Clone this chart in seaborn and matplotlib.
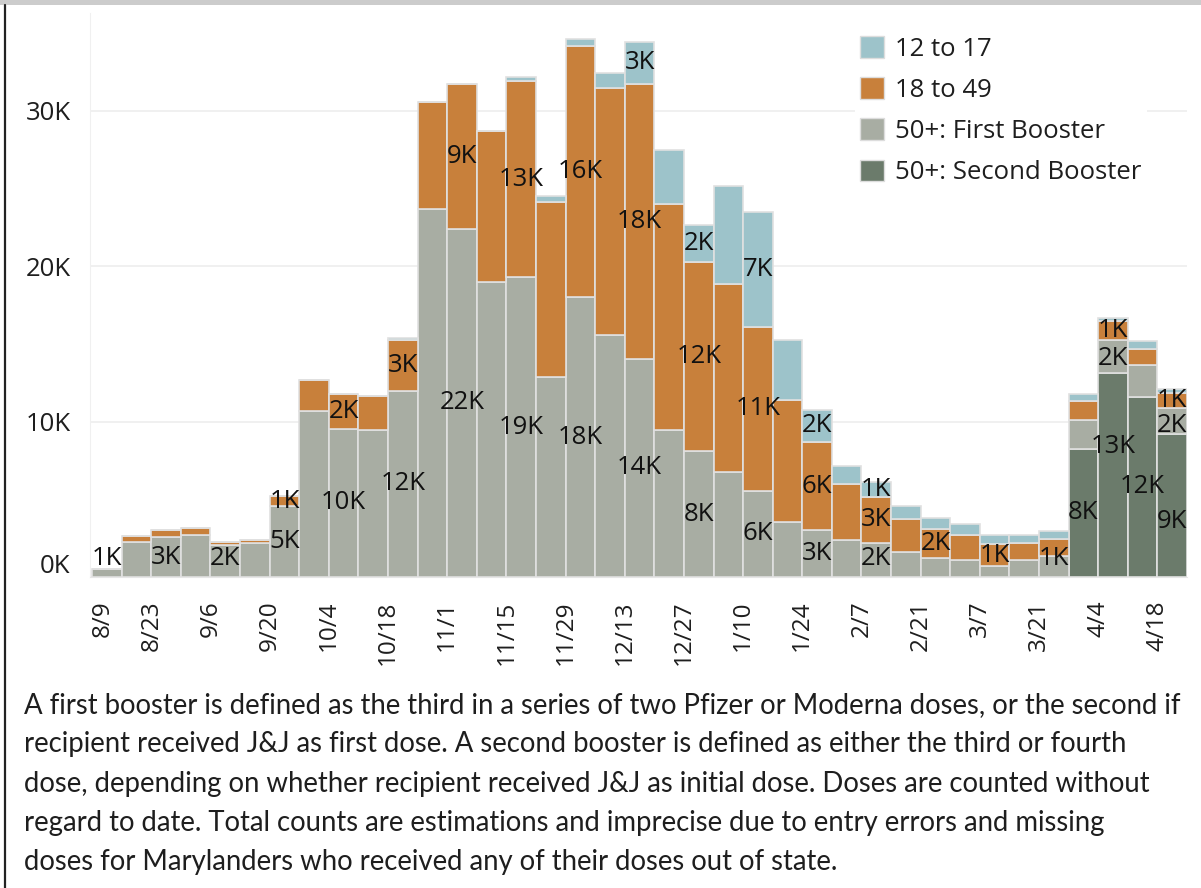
import numpy as np
import pandas as pd
import matplotlib
matplotlib.use("Agg")
import matplotlib.pyplot as plt
import seaborn as sns
from matplotlib.patches import Patch, Rectangle
from matplotlib.lines import Line2D
from matplotlib.transforms import ScaledTranslation

# Weekly booster doses by group
weeks = ['8/9', '8/16', '8/23', '8/30', '9/6', '9/13', '9/20', '9/27',
         '10/4', '10/11', '10/18', '10/25', '11/1', '11/8', '11/15', '11/22',
         '11/29', '12/6', '12/13', '12/20', '12/27', '1/3', '1/10', '1/17',
         '1/24', '1/31', '2/7', '2/14', '2/21', '2/28', '3/7', '3/14',
         '3/21', '3/28', '4/4', '4/11', '4/18']

age_12_17 = [0, 0, 0, 0, 0, 0, 0, 0, 0, 0, 100, 0, 0, 0, 300, 370,
             450, 950, 2700, 3500, 2350, 6350, 7400, 3900, 2100, 1180,
             940, 800, 680, 700, 600, 520, 550, 450, 200, 550, 250]
age_18_49 = [0, 370, 450, 450, 180, 200, 650, 2000, 2200, 2170, 3270,
             6900, 9300, 9700, 12600, 11300, 16200, 15900, 17700, 14500,
             12200, 12070, 10550, 7800, 5640, 3550, 3000, 2140, 1900,
             1610, 1450, 1080, 1080, 1220, 1200, 1000, 1000]
first_booster = [520, 2270, 2550, 2680, 2090, 2200, 4550, 10660, 9550,
                 9480, 12000, 23700, 22400, 19000, 19300, 12860, 18000,
                 15570, 14040, 9480, 8080, 6770, 5550, 3570, 3030, 2410,
                 2170, 1600, 1200, 1090, 680, 1090, 1350, 1850, 2100,
                 2050, 1660]
second_booster = [0] * 33 + [8240, 13160, 11600, 9200]

groups = ['12 to 17', '18 to 49', '50+: First Booster', '50+: Second Booster']
colors = ['#9dc3ca', '#c8803b', '#a8ada3', '#6b7b6b']

# segments that carry a value label in the original
label_spots = [(0, 2), (2, 2), (4, 2), (6, 1), (6, 2), (8, 1), (8, 2),
               (10, 1), (10, 2), (12, 1), (12, 2), (14, 1), (14, 2),
               (16, 1), (16, 2), (18, 0), (18, 1), (18, 2), (20, 0),
               (20, 1), (20, 2), (22, 0), (22, 1), (22, 2), (24, 0),
               (24, 1), (24, 2), (26, 0), (26, 1), (26, 2), (28, 1),
               (30, 1), (32, 2), (33, 3), (34, 1), (34, 2), (34, 3),
               (35, 3), (36, 1), (36, 2), (36, 3)]
label_nudge = {(34, 3): 1800, (36, 3): -1000, (36, 2): -250, (34, 2): -150}

series = [age_12_17, age_18_49, first_booster, second_booster]
rows = []
for g, vals in zip(groups, series):
    for i, v in enumerate(vals):
        rows.append({'week': i, 'group': g, 'count': v})
df = pd.DataFrame(rows)

sns.set_style("white")
plt.rcParams['font.family'] = ['Open Sans', 'DejaVu Sans']

fig = plt.figure(figsize=(12.01, 8.88), dpi=100)
ax = fig.add_axes([90 / 1201, 311 / 888, 1097 / 1201, 564 / 888])

sns.histplot(data=df, x='week', hue='group', weights='count',
             binwidth=1, binrange=(0, len(weeks)), multiple='stack',
             hue_order=groups, palette=dict(zip(groups, colors)),
             edgecolor='#e0e0e0', linewidth=1.2, alpha=1, shrink=1,
             legend=False, ax=ax)

ax.set_xlim(-0.07, len(weeks))
ax.set_ylim(0, 36300)
ax.set_xlabel('')
ax.set_ylabel('')

ax.set_yticks([0, 10000, 20000, 30000])
ax.set_yticklabels(['0K', '10K', '20K', '30K'])
ax.set_xticks(np.arange(0, len(weeks), 2))
ax.set_xticklabels(weeks[::2])
ax.tick_params(axis='x', length=8, width=1, color='#e2e2e2', pad=9,
               labelsize=17.5, rotation=90, labelcolor='#1e1e1e')
ax.tick_params(axis='y', length=10, width=1, color='#eeeeee', pad=4,
               labelsize=18.5, labelcolor='#1e1e1e')
ax.yaxis.grid(True, color='#efefef', linewidth=1.3)
ax.set_axisbelow(True)
for side in ['top', 'right']:
    ax.spines[side].set_visible(False)
ax.spines['left'].set_color('#f0f0f0')
ax.spines['bottom'].set_color('#e6e6e6')

# Tableau nudges the first labels inward
lbl0 = ax.get_yticklabels()[0]
lbl0.set_transform(lbl0.get_transform() + ScaledTranslation(0, 0.14, fig.dpi_scale_trans))
xl0 = ax.get_xticklabels()[0]
xl0.set_transform(xl0.get_transform() + ScaledTranslation(0.11, 0, fig.dpi_scale_trans))

# value labels, centred in their segment
order_bottom_up = [3, 2, 1, 0]
for i, g in label_spots:
    v = series[g][i]
    below = 0
    for k in order_bottom_up:
        if k == g:
            break
        below += series[k][i]
    y = max(below + v / 2, 1200) + label_nudge.get((i, g), 0)
    ax.text(i + 0.5, y, f"{int(v / 1000 + 0.5)}K", ha='center', va='center',
            fontsize=18.5, color='#111111', zorder=5)

handles = [Patch(facecolor=c, edgecolor='#dddddd') for c in colors]
leg = ax.legend(handles, groups, loc='upper left',
                bbox_to_anchor=(855 / 1201, 1 - 31 / 888),
                bbox_transform=fig.transFigure, frameon=True,
                facecolor='white', edgecolor='none', framealpha=1,
                fontsize=18.5, handlelength=0.93, handleheight=0.93,
                handletextpad=0.43, labelspacing=0.6, borderpad=0.2,
                borderaxespad=0)
for t in leg.get_texts():
    t.set_color('#1e1e1e')

caption = [
    "A first booster is defined as the third in a series of two Pfizer or Moderna doses, or the second if",
    "recipient received J&J as first dose. A second booster is defined as either the third or fourth",
    "dose, depending on whether recipient received J&J as initial dose. Doses are counted without",
    "regard to date. Total counts are estimations and imprecise due to entry errors and missing",
    "doses for Marylanders who received any of their doses out of state.",
]
for k, line in enumerate(caption):
    fig.text(24 / 1201, 1 - (705 + 39.3 * k) / 888, line, ha='left', va='center',
             fontsize=19.8, family=['Lato', 'DejaVu Sans'], color='#1e1e1e')

# outer frame bits
fig.add_artist(Rectangle((0, 1 - 5 / 888), 1, 5 / 888, transform=fig.transFigure,
                         facecolor='#cccccc', edgecolor='none'))
fig.add_artist(Line2D([5 / 1201, 5 / 1201], [0, 1 - 5 / 888], transform=fig.transFigure,
                      color='#222222', linewidth=1.6))

fig.savefig('out.png', dpi=100)
